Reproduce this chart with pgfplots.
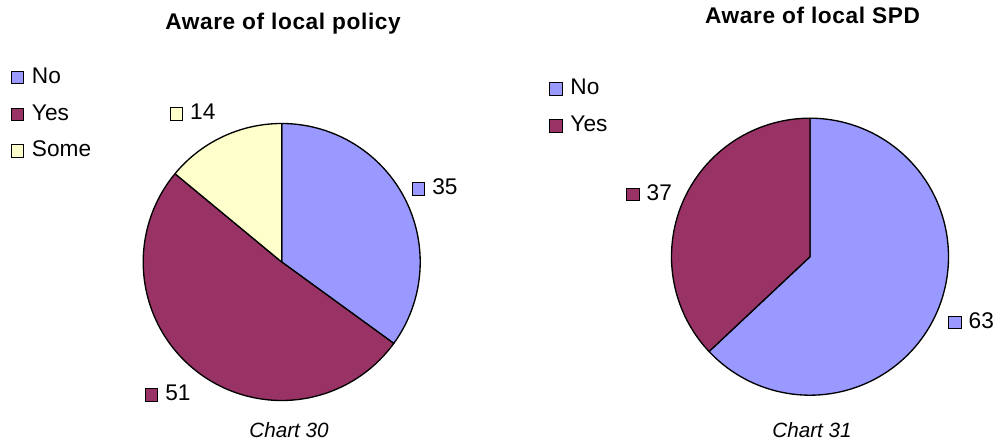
\documentclass[border=0pt]{standalone}
\usepackage{fontspec}
\setmainfont{Liberation Sans}
\usepackage{pgfplots}
\usepackage{pgfplotstable}
\pgfplotsset{compat=1.18}

\definecolor{pieNo}{HTML}{9999FF}
\definecolor{pieYes}{HTML}{993366}
\definecolor{pieSome}{HTML}{FFFFCC}

\newcommand\valfont{\fontsize{17}{20}\selectfont}
\newcommand\titlefont{\fontsize{17}{20}\selectfont\bfseries\addfontfeatures{LetterSpace=2.7}}
\newcommand\capfont{\fontsize{15.5}{18}\selectfont\itshape}

% slices clockwise from 12 o'clock; lx/ly = data label position
\pgfplotstableread{
label value colour lx ly
No 35 pieNo 418.7 189
Yes 51 pieYes 151.7 395
Some 14 pieSome 176.5 114
}\policy

\pgfplotstableread{
label value colour lx ly
No 63 pieNo 955 322.7
Yes 37 pieYes 633 194.7
}\spd

\def\pieR{138.5}

% #1 table, #2/#3 centre, #4/#5 first legend key
\newcommand\pie[5]{%
  \pgfplotstablegetrowsof{#1}%
  \pgfmathtruncatemacro\lastrow{\pgfplotsretval-1}%
  \def\startangle{90}%
  \pgfplotsforeachungrouped \i in {0,...,\lastrow}{%
    \pgfplotstablegetelem{\i}{value}\of{#1}\let\val\pgfplotsretval
    \pgfplotstablegetelem{\i}{colour}\of{#1}\let\col\pgfplotsretval
    \pgfplotstablegetelem{\i}{label}\of{#1}\let\lab\pgfplotsretval
    \pgfplotstablegetelem{\i}{lx}\of{#1}\let\lx\pgfplotsretval
    \pgfplotstablegetelem{\i}{ly}\of{#1}\let\ly\pgfplotsretval
    \pgfmathsetmacro\endangle{\startangle-3.6*\val}%
    \pgfmathsetmacro\tx{\lx+13.4}%
    \pgfmathsetmacro\ty{\ly+5.8}%
    \pgfmathsetmacro\legy{#5+36.8*\i}%
    \pgfmathsetmacro\legty{\legy+5.8}%
    \pgfmathsetmacro\legtx{#4+14.2}%
    \edef\slice{%
      \noexpand\addplot[fill=\col, draw=black, line width=1pt, line join=round,
        domain=\endangle:\startangle, samples=150, variable=\noexpand\t]
        ({#2+\pieR*cos(\noexpand\t)}, {#3-\pieR*sin(\noexpand\t)})
        -- (axis cs:#2,#3) -- cycle;
      \noexpand\node[draw=black, line width=0.75pt, fill=\col, minimum size=9.4pt,
        inner sep=0pt] at (axis cs:\lx,\ly) {};
      \noexpand\node[anchor=base west, inner sep=0pt, font=\noexpand\valfont]
        at (axis cs:\tx,\ty) {\val};
      \noexpand\node[draw=black, line width=0.75pt, fill=\col, minimum size=9.4pt,
        inner sep=0pt] at (axis cs:#4,\legy) {};
      \noexpand\node[anchor=base west, inner sep=0pt, font=\noexpand\valfont]
        at (axis cs:\legtx,\legty) {\lab};
    }%
    \slice
    \let\startangle\endangle
  }%
}

\begin{document}
\begin{tikzpicture}
\begin{axis}[
  x=0.75pt, y=0.75pt,
  xmin=0, xmax=994, ymin=0, ymax=441,
  y dir=reverse,
  hide axis, clip=false,
]
\path (axis cs:0,0) rectangle (axis cs:994,441);

\pie{\policy}{281.7}{262}{17.5}{77.5}
\pie{\spd}{810}{256.7}{556}{89}

\node[anchor=base, inner sep=0pt, font=\titlefont] at (axis cs:283,29.4) {Aware of local policy};
\node[anchor=base, inner sep=0pt, font=\titlefont] at (axis cs:812.5,24) {Aware of local SPD};
\node[anchor=base, inner sep=0pt, font=\capfont] at (axis cs:289,437) {Chart 30};
\node[anchor=base, inner sep=0pt, font=\capfont] at (axis cs:812,437) {Chart 31};
\end{axis}
\end{tikzpicture}
\end{document}
